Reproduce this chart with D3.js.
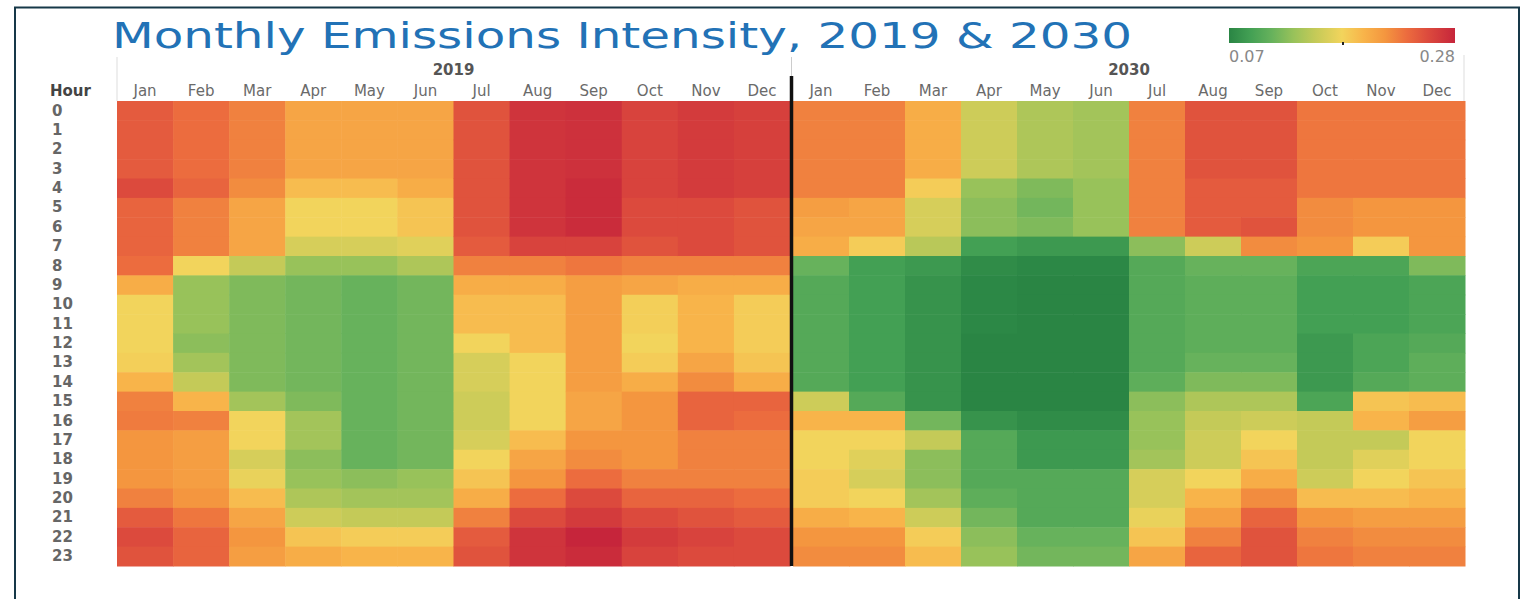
<!DOCTYPE html>
<html lang="en">
<head>
<meta charset="UTF-8">
<title>monthly_emissions_intensity</title>
<script src="https://cdn.jsdelivr.net/npm/d3@7"></script>
<style>
  body { margin: 0; background: #fff; }
  text { font-family: "DejaVu Sans", sans-serif; }
</style>
</head>
<body>
<svg width="1524" height="599" id="mainsvg"></svg>
<script>
const months = ['Jan','Feb','Mar','Apr','May','Jun','Jul','Aug','Sep','Oct','Nov','Dec'];
const hours = ['0','1','2','3','4','5','6','7','8','9','10','11','12','13','14','15','16','17','18','19','20','21','22','23'];
const years = ['2019', '2030'];
const legendTicks = [0.07, 0.28];

// one array per month, 24 hourly values (hour 0..23)
const intensity2019 = [
  [0.245,0.245,0.245,0.245,0.255,0.24,0.24,0.24,0.235,0.2,0.175,0.175,0.175,0.178,0.195,0.225,0.228,0.215,0.215,0.215,0.225,0.245,0.255,0.25],
  [0.235,0.235,0.235,0.235,0.24,0.225,0.225,0.225,0.175,0.13,0.13,0.13,0.125,0.135,0.15,0.195,0.225,0.21,0.21,0.21,0.215,0.23,0.24,0.24],
  [0.225,0.225,0.225,0.225,0.22,0.205,0.205,0.205,0.15,0.12,0.12,0.12,0.12,0.12,0.12,0.135,0.175,0.175,0.16,0.17,0.19,0.205,0.215,0.21],
  [0.205,0.205,0.205,0.205,0.19,0.175,0.175,0.16,0.13,0.115,0.115,0.115,0.115,0.115,0.115,0.12,0.135,0.135,0.125,0.13,0.14,0.155,0.185,0.2],
  [0.205,0.205,0.205,0.205,0.19,0.175,0.175,0.16,0.13,0.11,0.11,0.11,0.11,0.11,0.11,0.11,0.11,0.11,0.11,0.125,0.135,0.15,0.18,0.195],
  [0.205,0.205,0.205,0.205,0.2,0.185,0.185,0.165,0.14,0.115,0.115,0.115,0.115,0.115,0.115,0.115,0.115,0.115,0.115,0.13,0.135,0.15,0.18,0.195],
  [0.25,0.25,0.25,0.25,0.25,0.25,0.25,0.245,0.225,0.2,0.19,0.19,0.175,0.16,0.16,0.155,0.155,0.16,0.175,0.185,0.2,0.225,0.245,0.25],
  [0.27,0.27,0.27,0.27,0.27,0.27,0.27,0.26,0.225,0.2,0.19,0.19,0.19,0.175,0.175,0.175,0.175,0.19,0.205,0.215,0.235,0.255,0.27,0.27],
  [0.272,0.272,0.272,0.272,0.275,0.275,0.275,0.26,0.23,0.21,0.21,0.21,0.21,0.21,0.21,0.205,0.205,0.215,0.22,0.235,0.255,0.265,0.28,0.275],
  [0.26,0.26,0.26,0.26,0.26,0.255,0.255,0.25,0.225,0.205,0.178,0.178,0.175,0.18,0.2,0.215,0.215,0.215,0.215,0.225,0.24,0.255,0.265,0.26],
  [0.265,0.265,0.265,0.265,0.265,0.255,0.255,0.255,0.225,0.2,0.195,0.195,0.195,0.205,0.22,0.24,0.24,0.225,0.225,0.225,0.24,0.25,0.26,0.255],
  [0.262,0.262,0.262,0.262,0.262,0.25,0.25,0.25,0.225,0.2,0.18,0.18,0.18,0.185,0.2,0.24,0.235,0.225,0.225,0.225,0.235,0.245,0.255,0.255]
];

const intensity2030 = [
  [0.225,0.225,0.225,0.225,0.225,0.21,0.205,0.2,0.11,0.1,0.1,0.1,0.1,0.1,0.1,0.155,0.195,0.175,0.175,0.18,0.18,0.2,0.215,0.22],
  [0.225,0.225,0.225,0.225,0.225,0.205,0.205,0.18,0.09,0.09,0.09,0.09,0.09,0.09,0.09,0.1,0.195,0.175,0.165,0.16,0.175,0.195,0.215,0.22],
  [0.2,0.2,0.2,0.2,0.18,0.16,0.16,0.145,0.085,0.08,0.08,0.08,0.08,0.08,0.08,0.08,0.115,0.15,0.125,0.125,0.135,0.155,0.18,0.19],
  [0.155,0.155,0.155,0.155,0.13,0.125,0.125,0.09,0.075,0.072,0.072,0.072,0.07,0.07,0.07,0.07,0.08,0.1,0.1,0.1,0.105,0.115,0.125,0.13],
  [0.14,0.14,0.14,0.14,0.12,0.115,0.12,0.085,0.072,0.07,0.07,0.07,0.07,0.07,0.07,0.07,0.075,0.085,0.085,0.1,0.1,0.1,0.11,0.115],
  [0.135,0.135,0.135,0.135,0.13,0.13,0.13,0.085,0.072,0.07,0.07,0.07,0.07,0.07,0.07,0.07,0.075,0.085,0.085,0.1,0.1,0.1,0.11,0.115],
  [0.225,0.225,0.225,0.225,0.225,0.225,0.225,0.125,0.1,0.1,0.1,0.1,0.1,0.1,0.105,0.125,0.13,0.13,0.135,0.16,0.16,0.17,0.185,0.205],
  [0.25,0.25,0.25,0.25,0.245,0.245,0.245,0.155,0.11,0.105,0.105,0.105,0.105,0.11,0.12,0.14,0.15,0.155,0.155,0.175,0.195,0.21,0.225,0.24],
  [0.25,0.25,0.25,0.25,0.245,0.245,0.25,0.22,0.11,0.105,0.105,0.105,0.105,0.11,0.12,0.14,0.155,0.175,0.185,0.2,0.22,0.24,0.25,0.25],
  [0.23,0.23,0.23,0.23,0.23,0.22,0.22,0.215,0.095,0.09,0.09,0.09,0.085,0.085,0.085,0.095,0.15,0.15,0.15,0.155,0.19,0.215,0.225,0.23],
  [0.23,0.23,0.23,0.23,0.23,0.215,0.215,0.18,0.095,0.09,0.09,0.09,0.095,0.095,0.1,0.185,0.195,0.15,0.165,0.175,0.19,0.21,0.22,0.225],
  [0.23,0.23,0.23,0.23,0.23,0.215,0.215,0.215,0.12,0.095,0.095,0.095,0.1,0.105,0.105,0.19,0.21,0.175,0.175,0.185,0.195,0.21,0.22,0.225]
];

const colorStops = [0.07, 0.09, 0.11, 0.13, 0.15, 0.175, 0.195, 0.215, 0.235, 0.255, 0.28];
const colorRange = ['#2a8544','#43a054','#67b25c','#98c25a','#c4ca58','#f2d45c','#f8b44a','#f4963f','#ec6c3e','#dc4a3d','#c6253b'];

const svg = d3.select('#mainsvg');
const top0 = 101, bottom0 = 566;

// outer frame
svg.append('rect')
  .attr('x', 15).attr('y', 7.5).attr('width', 1504).attr('height', 640)
  .attr('fill', 'none').attr('stroke', '#163848').attr('stroke-width', 2);

const color = d3.scaleLinear().domain(colorStops).range(colorRange).clamp(true);

const yScale = d3.scaleBand().domain(hours).range([top0, bottom0]);
const xScales = [
  d3.scaleBand().domain(months).range([117, 790]),
  d3.scaleBand().domain(months).range([793, 1465])
];
const tables = [intensity2019, intensity2030];

years.forEach((yr, k) => {
  const x = xScales[k];
  const cells = [];
  tables[k].forEach((col, m) => col.forEach((v, h) => cells.push({month: months[m], hour: hours[h], v})));

  svg.append('g').selectAll('rect').data(cells).join('rect')
    .attr('x', d => x(d.month))
    .attr('y', d => yScale(d.hour))
    .attr('width', x.bandwidth() + 0.5)
    .attr('height', yScale.bandwidth() + 0.5)
    .attr('fill', d => color(d.v));

  // month labels
  const ax = svg.append('g')
    .attr('transform', 'translate(0,96)')
    .call(d3.axisTop(x).tickSize(0).tickPadding(0));
  ax.select('.domain').remove();
  ax.selectAll('text').attr('font-size', 15).attr('fill', '#6a6a6a')
    .attr('font-family', '"DejaVu Sans", sans-serif');

  // year label
  svg.append('text')
    .attr('x', (x.range()[0] + x.range()[1]) / 2)
    .attr('y', 75)
    .attr('text-anchor', 'middle')
    .attr('font-size', 15).attr('font-weight', 'bold').attr('fill', '#555')
    .text(yr);
});

// hour labels
const yAxisG = svg.append('g')
  .attr('transform', 'translate(117,0)')
  .call(d3.axisLeft(yScale).tickSize(0));
yAxisG.select('.domain').remove();
yAxisG.selectAll('text')
  .attr('x', -65).attr('text-anchor', 'start')
  .attr('font-size', 15).attr('font-weight', 'bold').attr('fill', '#666')
  .attr('font-family', '"DejaVu Sans", sans-serif');

svg.append('text').attr('x', 50).attr('y', 96)
  .attr('font-size', 15).attr('font-weight', 'bold').attr('fill', '#444')
  .text('Hour');

// thin header rules and year divider
svg.append('line').attr('x1', 117).attr('x2', 117).attr('y1', 57).attr('y2', top0)
  .attr('stroke', '#ddd').attr('stroke-width', 1);
svg.append('line').attr('x1', 1464).attr('x2', 1464).attr('y1', 55).attr('y2', top0)
  .attr('stroke', '#ddd').attr('stroke-width', 1);
svg.append('line').attr('x1', 791.5).attr('x2', 791.5).attr('y1', 57).attr('y2', 76)
  .attr('stroke', '#ccc').attr('stroke-width', 1);
svg.append('line').attr('x1', 791.5).attr('x2', 791.5).attr('y1', 76).attr('y2', bottom0)
  .attr('stroke', '#111').attr('stroke-width', 3.5);

// title
svg.append('text')
  .attr('x', 112).attr('y', 48)
  .attr('font-size', 35).attr('fill', '#2272b6')
  .attr('textLength', 1020).attr('lengthAdjust', 'spacingAndGlyphs')
  .text('Monthly Emissions Intensity, 2019 & 2030');

// legend
const legX = d3.scaleLinear().domain(legendTicks).range([1229, 1455]);
const grad = svg.append('defs').append('linearGradient').attr('id', 'legGrad');
grad.selectAll('stop').data(colorStops).join('stop')
  .attr('offset', d => (d - legendTicks[0]) / (legendTicks[1] - legendTicks[0]))
  .attr('stop-color', d => color(d));
svg.append('rect')
  .attr('x', legX(0.07)).attr('y', 28)
  .attr('width', legX(0.28) - legX(0.07)).attr('height', 15)
  .attr('fill', 'url(#legGrad)');
svg.append('rect').attr('x', 1342).attr('y', 42).attr('width', 2).attr('height', 3).attr('fill', '#222');
svg.selectAll('.legText').data(legendTicks).join('text')
  .attr('class', 'legText')
  .attr('x', d => legX(d))
  .attr('y', 62)
  .attr('text-anchor', (d, i) => i === 0 ? 'start' : 'end')
  .attr('font-size', 16).attr('fill', '#888')
  .text(d => d3.format('.2f')(d));
</script>
</body>
</html>
